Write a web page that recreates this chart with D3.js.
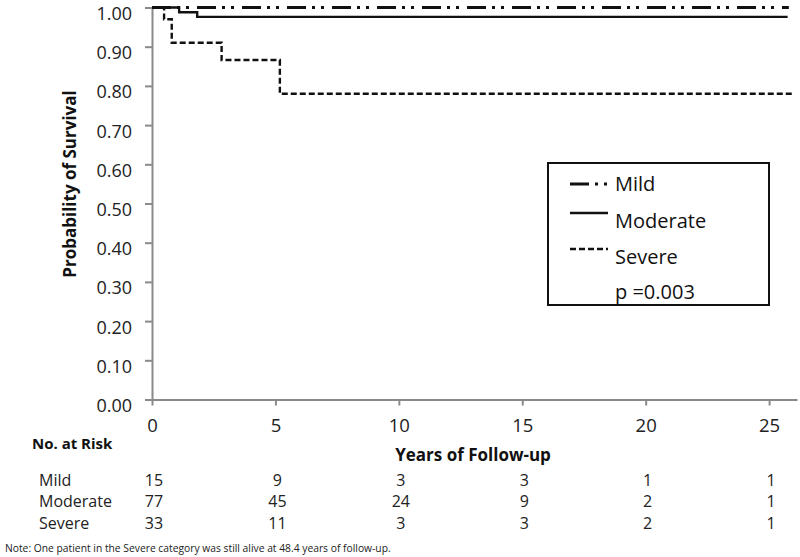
<!DOCTYPE html>
<html><head><meta charset="utf-8">
<script src="https://cdn.jsdelivr.net/npm/d3@7/dist/d3.min.js"></script>
<style>
body{margin:0;background:#fff;}
svg{display:block;font-family:"Open Sans",sans-serif;}
</style></head>
<body><svg id="c" width="800" height="557"></svg>
<script>
// ---- data ----
const yearTicks = [0, 5, 10, 15, 20, 25];
const survTicks = [0, 0.1, 0.2, 0.3, 0.4, 0.5, 0.6, 0.7, 0.8, 0.9, 1.0];
const groups = ["Mild", "Moderate", "Severe"];
const mildTimes = [0, 25.8];
const mildSurv = [1.0, 1.0];
const moderateTimes = [0, 1.1, 1.83, 25.75];
const moderateSurv = [1.0, 0.988, 0.976, 0.976];
const severeTimes = [0, 0.49, 0.8, 2.82, 5.18, 25.95];
const severeSurv = [1.0, 0.970, 0.910, 0.866, 0.780, 0.780];
const atRiskMild = [15, 9, 3, 3, 1, 1];
const atRiskModerate = [77, 45, 24, 9, 2, 1];
const atRiskSevere = [33, 11, 3, 3, 2, 1];
const pValueText = "p =0.003";
const noteText = "Note: One patient in the Severe category was still alive at 48.4 years of follow-up.";

// ---- drawing ----
const svg = d3.select("#c");
const x = d3.scaleLinear().domain([0, 26.13]).range([152, 797]);
const y = d3.scaleLinear().domain([0, 1]).range([399.5, 7.5]);
const axisColor = "#8a8a8a";

const gx = svg.append("g").attr("transform", `translate(0,${y(0)})`)
  .call(d3.axisBottom(x).tickValues(yearTicks).tickSize(6).tickSizeOuter(0).tickPadding(10).tickFormat(d3.format("d")));
const gy = svg.append("g").attr("transform", `translate(${x(0)},0)`)
  .call(d3.axisLeft(y).tickValues(survTicks).tickSize(7).tickSizeOuter(0).tickPadding(13).tickFormat(d3.format(".2f")));
[gx, gy].forEach(g => {
  g.selectAll(".domain").attr("stroke", axisColor).attr("stroke-width", 2);
  g.selectAll(".tick line").attr("stroke", axisColor).attr("stroke-width", 2);
  g.selectAll("text").attr("fill", "#222").style("font-family", "Open Sans");
});
gx.selectAll("text").style("font-size", "18.5px").attr("dy", "0.9em");
gy.selectAll("text").style("font-size", "18px").attr("dy", "0.667em");

const line = d3.line().x(d => x(d[0])).y(d => y(d[1])).curve(d3.curveStepAfter);
const series = [
  {name: "Mild", data: d3.zip(mildTimes, mildSurv), dash: "19,6,3,6,3,8", w: 3.2},
  {name: "Moderate", data: d3.zip(moderateTimes, moderateSurv), dash: null, w: 2.4},
  {name: "Severe", data: d3.zip(severeTimes, severeSurv), dash: "6,3", w: 2.4}
];
series.forEach(s => {
  svg.append("path").datum(s.data).attr("d", line).attr("fill", "none")
    .attr("stroke", "#111").attr("stroke-width", s.w)
    .attr("stroke-dasharray", s.dash);
});

// axis titles
svg.append("text").attr("transform", "translate(76,184) rotate(-90)")
  .attr("text-anchor", "middle").attr("font-weight", "bold").attr("font-size", 17)
  .attr("fill", "#111").text("Probability of Survival");
svg.append("text").attr("x", 473).attr("y", 461)
  .attr("text-anchor", "middle").attr("font-weight", "bold").attr("font-size", 17)
  .attr("fill", "#111").text("Years of Follow-up");

// legend
svg.append("rect").attr("x", 548).attr("y", 163).attr("width", 221).attr("height", 142)
  .attr("fill", "#fff").attr("stroke", "#111").attr("stroke-width", 2);
const legY = [184, 221, 257];
series.forEach((s, i) => {
  const ly = i === 0 ? legY[0] : legY[i] - 8;
  svg.append("line").attr("x1", 570).attr("x2", 608).attr("y1", ly).attr("y2", ly)
    .attr("stroke", "#111").attr("stroke-width", s.w).attr("stroke-dasharray", s.dash);
  svg.append("text").attr("x", 615).attr("y", legY[i]).attr("dy", "0.35em")
    .attr("font-size", 20).attr("fill", "#111").text(groups[i]);
});
svg.append("text").attr("x", 615).attr("y", 292).attr("dy", "0.35em")
  .attr("font-size", 20).attr("fill", "#111").text(pValueText);

// number at risk table
svg.append("text").attr("x", 32).attr("y", 444).attr("dy", "0.35em")
  .attr("font-weight", "bold").attr("font-size", 15).attr("fill", "#111").text("No. at Risk");
const rows = [atRiskMild, atRiskModerate, atRiskSevere];
const rowY = [480, 501, 523];
rows.forEach((r, i) => {
  svg.append("text").attr("x", 39).attr("y", rowY[i]).attr("dy", "0.35em")
    .attr("font-size", 16).attr("fill", "#222").text(groups[i]);
  svg.selectAll(null).data(r).enter().append("text")
    .attr("x", (d, j) => x(yearTicks[j]) + 2).attr("y", rowY[i]).attr("dy", "0.35em")
    .attr("text-anchor", "middle").attr("font-size", 16).attr("fill", "#222").text(d => d);
});
svg.append("text").attr("x", 5).attr("y", 548).attr("dy", "0.35em")
  .attr("font-size", 10.3).attr("fill", "#222").text(noteText);
</script></body></html>
